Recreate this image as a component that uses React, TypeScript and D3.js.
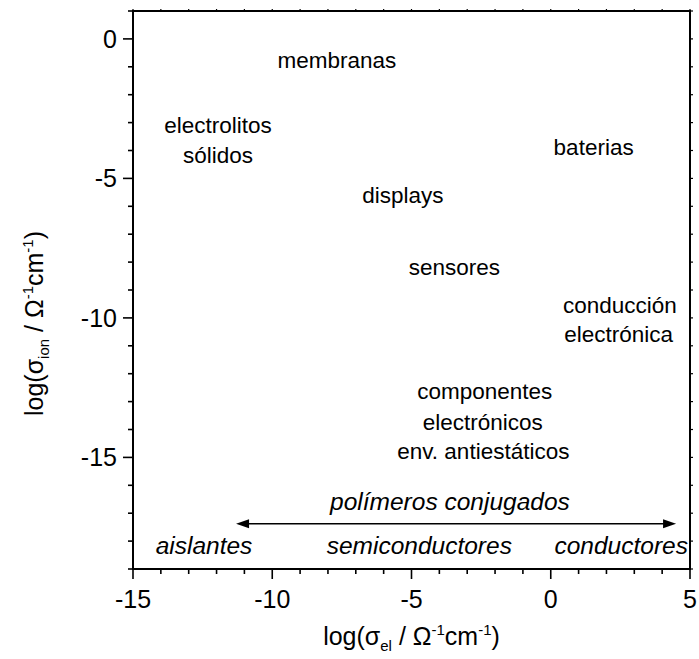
import React from "react";
import * as d3 from "d3";

const xDomain: [number, number] = [-15, 5];
const yDomain: [number, number] = [-19, 1];
const xMajorTicks = [-15, -10, -5, 0, 5];
const yMajorTicks = [0, -5, -10, -15];
const xMinorTicks = d3.range(-15, 5.01, 1);
const yMinorTicks = d3.range(-19, 1.01, 1);

// annotation labels placed in data coordinates (x = log σel, y = log σion)
const upLabels = ["membranas", "electrolitos", "sólidos", "displays", "baterias", "sensores", "conducción", "electrónica", "componentes", "electrónicos", "env. antiestáticos"];
const upX = [-7.68, -11.95, -11.95, -5.31, 1.54, -3.46, 2.48, 2.44, -2.37, -2.44, -2.42];
const upY = [-1.04, -3.37, -4.45, -5.89, -4.16, -8.47, -9.82, -10.86, -12.89, -14.0, -15.04];

const classLabels = ["aislantes", "semiconductores", "conductores", "polímeros conjugados"];
const classX = [-12.45, -4.72, 2.53, -3.62];
const classY = [-18.47, -18.47, -18.47, -16.88];

const arrowFrom = -11.3;
const arrowTo = 4.5;
const arrowLevel = -17.38;

const W = 699;
const H = 659;
const left = 133, right = 690, top = 11, bottom = 569;
const FONT = "'Liberation Sans', Arial, Helvetica, sans-serif";

export default function App() {
  const x = d3.scaleLinear().domain(xDomain).range([left, right]);
  const y = d3.scaleLinear().domain(yDomain).range([bottom, top]);

  const ax = x(arrowFrom), bx = x(arrowTo), ay = y(arrowLevel);
  const headL = 13, headW = 4.5;

  return (
    <svg width={W} height={H} style={{ position: "absolute", left: 0, top: 0, background: "#fff" }} fontFamily={FONT}>
      <rect x={0} y={0} width={W} height={H} fill="#fff" />
      {/* frame */}
      <rect x={left} y={top} width={right - left} height={bottom - top} fill="none" stroke="#000" strokeWidth={2} />

      {/* bottom ticks */}
      {xMinorTicks.map((t) => {
        const major = xMajorTicks.includes(t);
        return <line key={"bx" + t} x1={x(t)} x2={x(t)} y1={bottom} y2={bottom + (major ? 10 : 5)} stroke="#000" strokeWidth={1.6} />;
      })}
      {/* top ticks */}
      {xMinorTicks.map((t) => (
        <line key={"tx" + t} x1={x(t)} x2={x(t)} y1={top} y2={top - 2} stroke="#000" strokeWidth={1.2} />
      ))}
      {/* left ticks */}
      {yMinorTicks.map((t) => {
        const major = yMajorTicks.includes(t);
        return <line key={"ly" + t} x1={left} x2={left - (major ? 10 : 5)} y1={y(t)} y2={y(t)} stroke="#000" strokeWidth={1.6} />;
      })}
      {/* right ticks */}
      {yMinorTicks.map((t) => (
        <line key={"ry" + t} x1={right} x2={right + 3} y1={y(t)} y2={y(t)} stroke="#000" strokeWidth={1.2} />
      ))}

      {/* tick labels */}
      {xMajorTicks.map((t) => (
        <text key={"xl" + t} x={x(t)} y={608} textAnchor="middle" fontSize={25}>{t}</text>
      ))}
      {yMajorTicks.map((t) => (
        <text key={"yl" + t} x={117} y={y(t) + 9} textAnchor="end" fontSize={25}>{t}</text>
      ))}

      {/* axis titles */}
      <text x={411.5} y={645} textAnchor="middle" fontSize={25}>
        log(σ<tspan fontSize={15} dy={6}>el</tspan>
        <tspan dy={-6}> / Ω</tspan>
        <tspan fontSize={15} dy={-10}>-1</tspan>
        <tspan dy={10}>cm</tspan>
        <tspan fontSize={15} dy={-10}>-1</tspan>
        <tspan dy={10}>)</tspan>
      </text>
      <text transform={`translate(43,323.5) rotate(-90)`} x={0} y={0} textAnchor="middle" fontSize={25}>
        log(σ<tspan fontSize={15} dy={6}>ion</tspan>
        <tspan dy={-6}> / Ω</tspan>
        <tspan fontSize={15} dy={-10}>-1</tspan>
        <tspan dy={10}>cm</tspan>
        <tspan fontSize={15} dy={-10}>-1</tspan>
        <tspan dy={10}>)</tspan>
      </text>

      {/* application labels */}
      {upLabels.map((s, i) => (
        <text key={"u" + i} x={x(upX[i])} y={y(upY[i])} textAnchor="middle" fontSize={22.5}>{s}</text>
      ))}

      {/* class labels */}
      {classLabels.map((s, i) => (
        <text key={"c" + i} x={x(classX[i])} y={y(classY[i])} textAnchor="middle" fontSize={24.5} fontStyle="italic">{s}</text>
      ))}

      {/* double arrow */}
      <line x1={ax + headL - 1} x2={bx - headL + 1} y1={ay} y2={ay} stroke="#000" strokeWidth={1.6} />
      <path d={`M${ax},${ay} L${ax + headL},${ay - headW} L${ax + headL},${ay + headW} Z`} fill="#000" />
      <path d={`M${bx},${ay} L${bx - headL},${ay - headW} L${bx - headL},${ay + headW} Z`} fill="#000" />
    </svg>
  );
}
